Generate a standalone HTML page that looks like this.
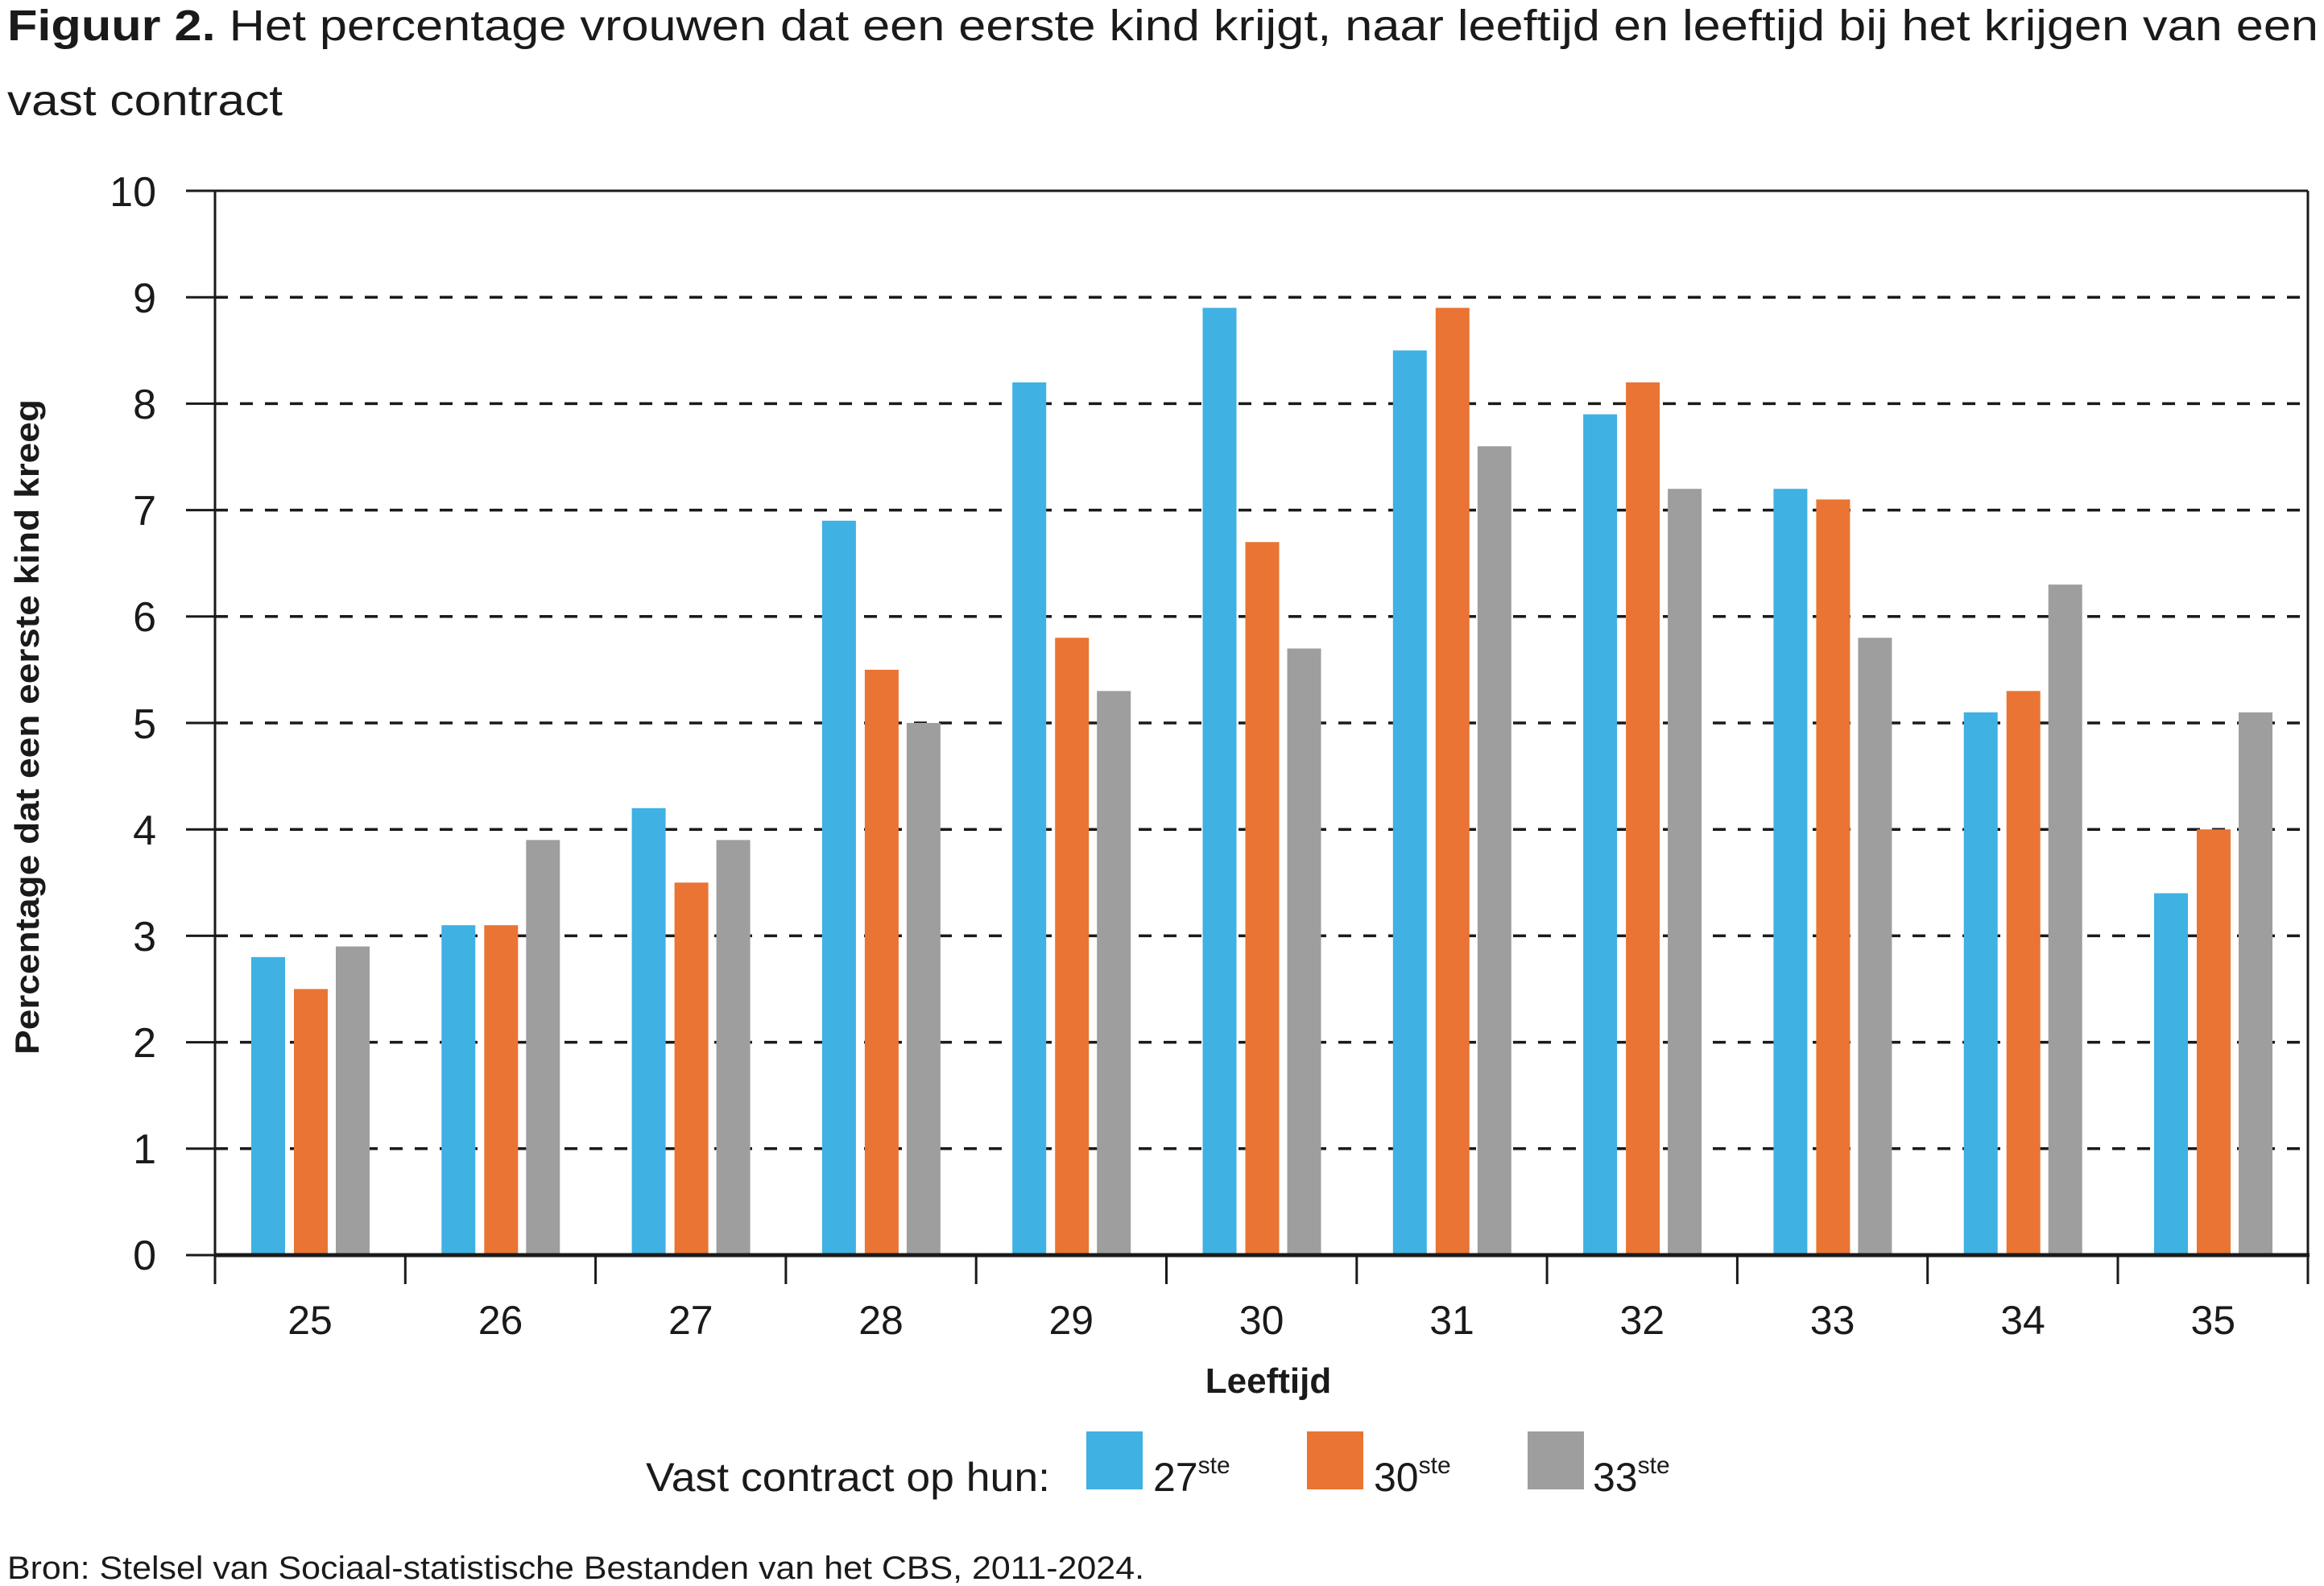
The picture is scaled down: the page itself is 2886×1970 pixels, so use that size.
<!DOCTYPE html>
<html><head><meta charset="utf-8"><style>html,body{margin:0;padding:0;background:#fff}svg{display:block}</style></head>
<body>
<svg width="2886" height="1970" viewBox="0 0 2886 1970" xmlns="http://www.w3.org/2000/svg" font-family="'Liberation Sans Narrow','Liberation Sans',sans-serif" fill="#1a1a1a">
<text x="9" y="50" font-size="54" textLength="2870" lengthAdjust="spacingAndGlyphs"><tspan font-weight="bold">Figuur 2.</tspan> Het percentage vrouwen dat een eerste kind krijgt, naar leeftijd en leeftijd bij het krijgen van een</text>
<text x="9" y="143" font-size="54" textLength="342" lengthAdjust="spacingAndGlyphs">vast contract</text>
<g stroke="#1a1a1a" stroke-width="3.5" stroke-dasharray="16 15">
<line x1="267" x2="2866" y1="1426.8" y2="1426.8"/><line x1="267" x2="2866" y1="1294.6" y2="1294.6"/><line x1="267" x2="2866" y1="1162.4" y2="1162.4"/><line x1="267" x2="2866" y1="1030.2" y2="1030.2"/><line x1="267" x2="2866" y1="898" y2="898"/><line x1="267" x2="2866" y1="765.8" y2="765.8"/><line x1="267" x2="2866" y1="633.6" y2="633.6"/><line x1="267" x2="2866" y1="501.4" y2="501.4"/><line x1="267" x2="2866" y1="369.2" y2="369.2"/>
</g>
<g id="bars">
<g transform="translate(267,1559) scale(1,-1)"><rect x="45" width="42" height="370.2" fill="#3fb1e3"/><rect x="98" width="42" height="330.5" fill="#e97433"/><rect x="150" width="42" height="383.4" fill="#9e9e9e"/></g>
<g transform="translate(503.3,1559) scale(1,-1)"><rect x="45" width="42" height="409.8" fill="#3fb1e3"/><rect x="98" width="42" height="409.8" fill="#e97433"/><rect x="150" width="42" height="515.6" fill="#9e9e9e"/></g>
<g transform="translate(739.6,1559) scale(1,-1)"><rect x="45" width="42" height="555.2" fill="#3fb1e3"/><rect x="98" width="42" height="462.7" fill="#e97433"/><rect x="150" width="42" height="515.6" fill="#9e9e9e"/></g>
<g transform="translate(975.9,1559) scale(1,-1)"><rect x="45" width="42" height="912.2" fill="#3fb1e3"/><rect x="98" width="42" height="727.1" fill="#e97433"/><rect x="150" width="42" height="661" fill="#9e9e9e"/></g>
<g transform="translate(1212.2,1559) scale(1,-1)"><rect x="45" width="42" height="1084" fill="#3fb1e3"/><rect x="98" width="42" height="766.8" fill="#e97433"/><rect x="150" width="42" height="700.7" fill="#9e9e9e"/></g>
<g transform="translate(1448.5,1559) scale(1,-1)"><rect x="45" width="42" height="1176.6" fill="#3fb1e3"/><rect x="98" width="42" height="885.7" fill="#e97433"/><rect x="150" width="42" height="753.5" fill="#9e9e9e"/></g>
<g transform="translate(1684.8,1559) scale(1,-1)"><rect x="45" width="42" height="1123.7" fill="#3fb1e3"/><rect x="98" width="42" height="1176.6" fill="#e97433"/><rect x="150" width="42" height="1004.7" fill="#9e9e9e"/></g>
<g transform="translate(1921.1,1559) scale(1,-1)"><rect x="45" width="42" height="1044.4" fill="#3fb1e3"/><rect x="98" width="42" height="1084" fill="#e97433"/><rect x="150" width="42" height="951.8" fill="#9e9e9e"/></g>
<g transform="translate(2157.4,1559) scale(1,-1)"><rect x="45" width="42" height="951.8" fill="#3fb1e3"/><rect x="98" width="42" height="938.6" fill="#e97433"/><rect x="150" width="42" height="766.8" fill="#9e9e9e"/></g>
<g transform="translate(2393.7,1559) scale(1,-1)"><rect x="45" width="42" height="674.2" fill="#3fb1e3"/><rect x="98" width="42" height="700.7" fill="#e97433"/><rect x="150" width="42" height="832.9" fill="#9e9e9e"/></g>
<g transform="translate(2630,1559) scale(1,-1)"><rect x="45" width="42" height="449.5" fill="#3fb1e3"/><rect x="98" width="42" height="528.8" fill="#e97433"/><rect x="150" width="42" height="674.2" fill="#9e9e9e"/></g>
</g>
<g stroke="#1a1a1a" stroke-width="3">
<line x1="231" x2="2866" y1="237" y2="237"/>
<line x1="2866" x2="2866" y1="237" y2="1595"/>
<line x1="267" x2="267" y1="237" y2="1595"/>
<line x1="231" x2="267" y1="1426.8" y2="1426.8"/><line x1="231" x2="267" y1="1294.6" y2="1294.6"/><line x1="231" x2="267" y1="1162.4" y2="1162.4"/><line x1="231" x2="267" y1="1030.2" y2="1030.2"/><line x1="231" x2="267" y1="898" y2="898"/><line x1="231" x2="267" y1="765.8" y2="765.8"/><line x1="231" x2="267" y1="633.6" y2="633.6"/><line x1="231" x2="267" y1="501.4" y2="501.4"/><line x1="231" x2="267" y1="369.2" y2="369.2"/>
<line x1="231" x2="267" y1="1559" y2="1559"/>
<line x1="503.3" x2="503.3" y1="1559" y2="1595"/><line x1="739.6" x2="739.6" y1="1559" y2="1595"/><line x1="975.9" x2="975.9" y1="1559" y2="1595"/><line x1="1212.2" x2="1212.2" y1="1559" y2="1595"/><line x1="1448.5" x2="1448.5" y1="1559" y2="1595"/><line x1="1684.8" x2="1684.8" y1="1559" y2="1595"/><line x1="1921.1" x2="1921.1" y1="1559" y2="1595"/><line x1="2157.4" x2="2157.4" y1="1559" y2="1595"/><line x1="2393.7" x2="2393.7" y1="1559" y2="1595"/><line x1="2630" x2="2630" y1="1559" y2="1595"/>
</g>
<line x1="267" x2="2868" y1="1559" y2="1559" stroke="#1a1a1a" stroke-width="5"/>
<g font-size="52" text-anchor="end">
<text x="194" y="1577">0</text><text x="194" y="1445">1</text><text x="194" y="1313">2</text><text x="194" y="1181">3</text><text x="194" y="1049">4</text><text x="194" y="917">5</text><text x="194" y="784">6</text><text x="194" y="652">7</text><text x="194" y="520">8</text><text x="194" y="388">9</text><text x="194" y="256">10</text>
</g>
<g font-size="50" text-anchor="middle">
<text x="385" y="1657">25</text><text x="621.5" y="1657">26</text><text x="857.8" y="1657">27</text><text x="1094" y="1657">28</text><text x="1330.3" y="1657">29</text><text x="1566.6" y="1657">30</text><text x="1803" y="1657">31</text><text x="2039.3" y="1657">32</text><text x="2275.6" y="1657">33</text><text x="2512" y="1657">34</text><text x="2748.3" y="1657">35</text>
</g>
<text x="1575" y="1730" font-size="44" font-weight="bold" text-anchor="middle">Leeftijd</text>
<text transform="translate(48,903) rotate(-90)" font-size="42" font-weight="bold" text-anchor="middle" textLength="814" lengthAdjust="spacingAndGlyphs">Percentage dat een eerste kind kreeg</text>
<text x="802" y="1852" font-size="50" textLength="502" lengthAdjust="spacingAndGlyphs">Vast contract op hun:</text>
<rect x="1349" y="1778" width="70" height="72" fill="#3fb1e3"/>
<rect x="1623" y="1778" width="70" height="72" fill="#e97433"/>
<rect x="1897" y="1778" width="70" height="72" fill="#9e9e9e"/>
<text x="1432" y="1852" font-size="50">27<tspan font-size="30" dy="-22">ste</tspan></text>
<text x="1706" y="1852" font-size="50">30<tspan font-size="30" dy="-22">ste</tspan></text>
<text x="1978" y="1852" font-size="50">33<tspan font-size="30" dy="-22">ste</tspan></text>
<text x="9" y="1961" font-size="40" textLength="1412" lengthAdjust="spacingAndGlyphs">Bron: Stelsel van Sociaal-statistische Bestanden van het CBS, 2011-2024.</text>
</svg>
</body></html>
